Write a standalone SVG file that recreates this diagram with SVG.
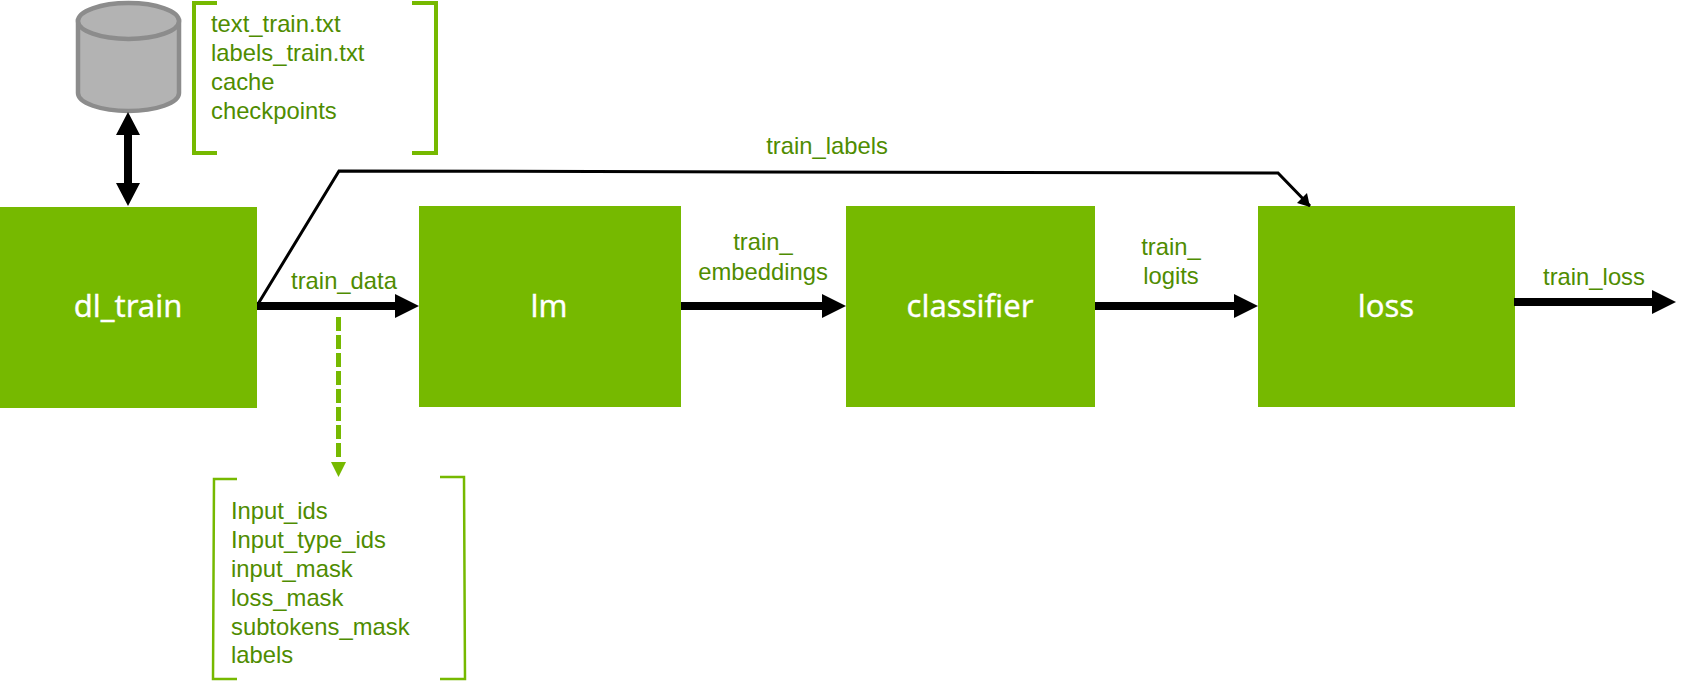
<svg xmlns="http://www.w3.org/2000/svg" width="1700" height="684" viewBox="0 0 1700 684">
<defs>
<style>
.box{fill:#76b900}
.nl{font-family:"Noto Sans","Open Sans",sans-serif;font-size:31px;fill:#fff;text-anchor:middle;stroke:#fff;stroke-width:.3}
.t{font-family:"Liberation Sans",Arial,sans-serif;font-size:23.8px;fill:#4f8c00}
.m{text-anchor:middle}
.thick{stroke:#000;stroke-width:8;fill:none}
.head{fill:#000}
.br{fill:none;stroke:#76b900;stroke-linejoin:miter}
</style>
</defs>
<rect width="1700" height="684" fill="#fff"/>
<g id="storage">
<path d="M78 21V93C78 103 101 111 128.500 111C156 111 179 103 179 93V21Z" fill="#b3b3b3" stroke="#8c8c8c" stroke-width="4.500"/>
<ellipse cx="128.500" cy="21" rx="50.500" ry="18" fill="#b3b3b3" stroke="#8c8c8c" stroke-width="4.500"/>
</g>
<g id="files">
<path class="br" stroke-width="4" d="M217 3H194V153H217M412 3H436V153H412"/>
<text class="t"><tspan x="211" y="32">text_train.txt</tspan><tspan x="211" y="61">labels_train.txt</tspan><tspan x="211" y="90">cache</tspan><tspan x="211" y="119">checkpoints</tspan></text>
</g>
<g id="dl_train"><rect class="box" x="0" y="207" width="257" height="201"/><text class="nl" x="128" y="317">dl_train</text></g>
<g id="lm"><rect class="box" x="419" y="206" width="262" height="201"/><text class="nl" x="549" y="317">lm</text></g>
<g id="classifier"><rect class="box" x="846" y="206" width="249" height="201"/><text class="nl" x="970" y="317">classifier</text></g>
<g id="loss"><rect class="box" x="1258" y="206" width="257" height="201"/><text class="nl" x="1386" y="317">loss</text></g>
<g id="connectors">
<path class="thick" d="M128 134V184"/>
<path class="head" d="M128 112L140 135H116ZM128 206L116 183H140Z"/>
<path d="M258 304L339 171L1278 173L1310 206" fill="none" stroke="#000" stroke-width="3"/>
<path class="head" d="M1310 207L1297 203L1307 193Z"/>
<path class="thick" d="M257 306H396"/><path class="head" d="M419 306L395 294V318Z"/>
<path class="thick" d="M681 306H824"/><path class="head" d="M846 306L822 294V318Z"/>
<path class="thick" d="M1095 306H1236"/><path class="head" d="M1258 306L1234 294V318Z"/>
<path class="thick" d="M1514 302H1654"/><path class="head" d="M1676 302L1652 290V314Z"/>
<path d="M338.500 317V457" fill="none" stroke="#76b900" stroke-width="5" stroke-dasharray="14 4"/>
<path d="M338.500 477L331 462H346Z" fill="#76b900"/>
</g>
<g id="fields">
<path class="br" stroke-width="2.500" d="M237 479H214L213 679H237M440 477H464L465 679H440"/>
<text class="t"><tspan x="231" y="519">Input_ids</tspan><tspan x="231" y="548">Input_type_ids</tspan><tspan x="231" y="577">input_mask</tspan><tspan x="231" y="606">loss_mask</tspan><tspan x="231" y="635">subtokens_mask</tspan><tspan x="231" y="663">labels</tspan></text>
</g>
<g id="labels">
<text class="t m" x="827" y="154">train_labels</text>
<text class="t m" x="344" y="289">train_data</text>
<text class="t m" x="763" y="250">train_</text>
<text class="t m" x="763" y="280">embeddings</text>
<text class="t m" x="1171" y="255">train_</text>
<text class="t m" x="1171" y="284">logits</text>
<text class="t m" x="1594" y="285">train_loss</text>
</g>
</svg>
